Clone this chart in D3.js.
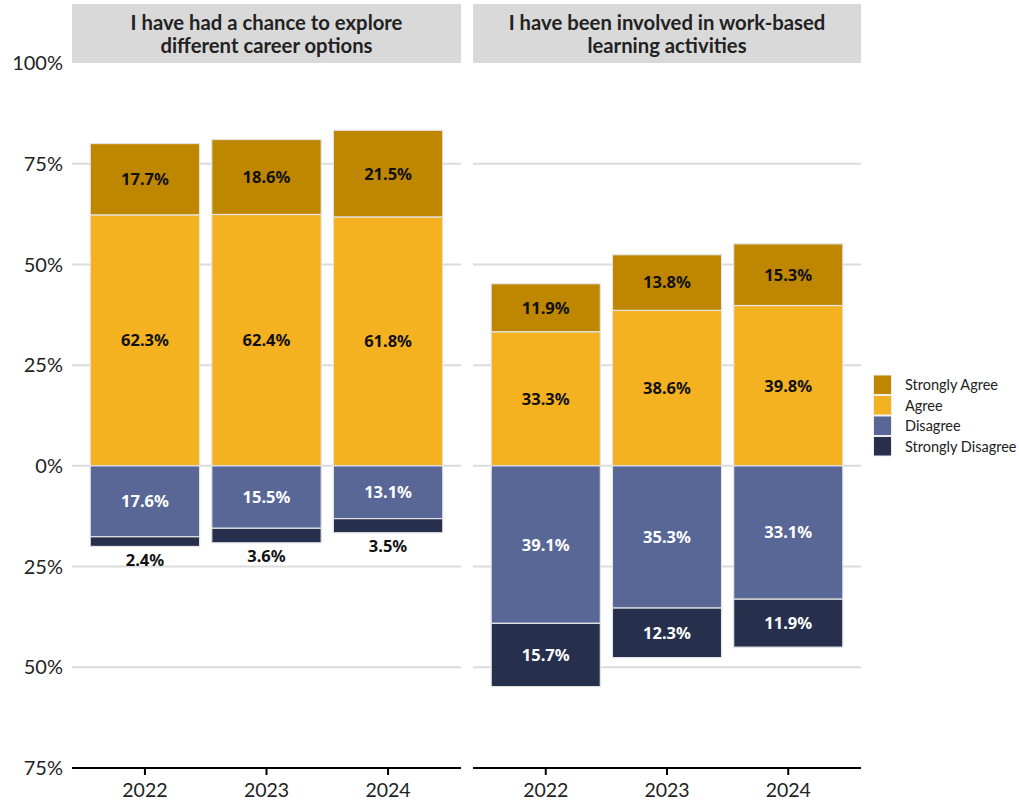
<!DOCTYPE html>
<html><head><meta charset="utf-8">
<script src="https://cdn.jsdelivr.net/npm/d3@7"></script>
<style>body{margin:0;background:#fff}</style>
</head><body>
<svg id="chart" width="1019" height="803"></svg>
<script>
const panelTitles = [
  ["I have had a chance to explore", "different career options"],
  ["I have been involved in work-based", "learning activities"]
];
const years = ["2022", "2023", "2024"];
const levels = ["Strongly Agree", "Agree", "Disagree", "Strongly Disagree"];
const levelColors = ["#BF8600", "#F4B120", "#586796", "#26304D"];
const stronglyAgree = [[17.7, 18.6, 21.5], [11.9, 13.8, 15.3]];
const agree = [[62.3, 62.4, 61.8], [33.3, 38.6, 39.8]];
const disagree = [[17.6, 15.5, 13.1], [39.1, 35.3, 33.1]];
const stronglyDisagree = [[2.4, 3.6, 3.5], [15.7, 12.3, 11.9]];
const yTicks = [100, 75, 50, 25, 0, -25, -50, -75];

const svg = d3.select("#chart");
const y = d3.scaleLinear().domain([-75, 100]).range([768, 63]);
const panelX = [[72, 461], [473, 861]];
const fmt = v => v.toFixed(1) + "%";
const labelFont = "'Noto Sans', 'Open Sans', sans-serif";
const axisFont = "Lato, 'Noto Sans', sans-serif";

// y axis labels
svg.append("g").selectAll("text").data(yTicks).join("text")
  .attr("x", 63).attr("y", d => y(d)).attr("dy", "0.36em")
  .attr("text-anchor", "end")
  .style("font-family", axisFont).style("font-size", "20px").style("fill", "#222")
  .text(d => Math.abs(d) + "%");

panelTitles.forEach((title, p) => {
  const [x0, x1] = panelX[p];
  const x = d3.scaleBand().domain(years).range([x0, x1]).paddingInner(0.1).paddingOuter(0.15);
  const g = svg.append("g");

  // gridlines
  g.selectAll("line.grid").data(yTicks.filter(t => t > -75 && t < 100)).join("line")
    .attr("x1", x0).attr("x2", x1).attr("y1", d => y(d)).attr("y2", d => y(d))
    .attr("stroke", "#dcdcdc").attr("stroke-width", 2);

  // strip
  g.append("rect").attr("x", x0).attr("y", 4).attr("width", x1 - x0).attr("height", 59)
    .attr("fill", "#d9d9d9");
  g.selectAll("text.strip").data(title).join("text")
    .attr("x", (x0 + x1) / 2).attr("y", (d, i) => 29.5 + i * 23)
    .attr("text-anchor", "middle")
    .style("font-family", axisFont).style("font-weight", "700").style("font-size", "20.3px").style("fill", "#222")
    .text(d => d);

  // segments
  const segs = [];
  years.forEach((yr, i) => {
    const a = agree[p][i], sa = stronglyAgree[p][i], dd = disagree[p][i], sd = stronglyDisagree[p][i];
    segs.push({yr, lvl: 1, lo: 0, hi: a, v: a});
    segs.push({yr, lvl: 0, lo: a, hi: a + sa, v: sa});
    segs.push({yr, lvl: 2, lo: -dd, hi: 0, v: dd});
    segs.push({yr, lvl: 3, lo: -(dd + sd), hi: -dd, v: sd});
  });
  g.selectAll("rect.bar").data(segs).join("rect")
    .attr("x", d => x(d.yr)).attr("width", x.bandwidth())
    .attr("y", d => y(d.hi)).attr("height", d => y(d.lo) - y(d.hi))
    .attr("fill", d => levelColors[d.lvl])
    .attr("stroke", "#e4e4e4").attr("stroke-width", 1.2);

  g.selectAll("text.lbl").data(segs).join("text")
    .attr("x", d => x(d.yr) + x.bandwidth() / 2)
    .attr("y", d => (d.lvl === 3 && d.v < 5) ? y(d.lo - 3.4) : y((d.lo + d.hi) / 2))
    .attr("dy", "0.36em").attr("text-anchor", "middle")
    .style("font-family", labelFont).style("font-weight", "700").style("font-size", "16.5px")
    .style("fill", d => (d.lvl <= 1 || (d.lvl === 3 && d.v < 5)) ? "#111" : "#fff")
    .text(d => fmt(d.v));

  // bottom axis
  g.append("line").attr("x1", x0).attr("x2", x1).attr("y1", 768).attr("y2", 768)
    .attr("stroke", "#000").attr("stroke-width", 2);
  g.selectAll("line.tick").data(years).join("line")
    .attr("x1", d => x(d) + x.bandwidth() / 2).attr("x2", d => x(d) + x.bandwidth() / 2)
    .attr("y1", 768).attr("y2", 775).attr("stroke", "#000").attr("stroke-width", 2);
  g.selectAll("text.tick").data(years).join("text")
    .attr("x", d => x(d) + x.bandwidth() / 2).attr("y", 797)
    .attr("text-anchor", "middle")
    .style("font-family", axisFont).style("font-size", "19.5px").style("fill", "#222")
    .text(d => d);
});

// legend
const lg = svg.append("g");
levels.forEach((lvl, i) => {
  const yy = 375 + i * 20.5;
  lg.append("rect").attr("x", 873.5).attr("y", yy).attr("width", 18).attr("height", 19.5)
    .attr("fill", levelColors[i]).attr("stroke", "#eee").attr("stroke-width", 1);
  lg.append("text").attr("x", 905).attr("y", yy + 10).attr("dy", "0.36em")
    .style("font-family", axisFont).style("font-size", "14.5px").style("fill", "#222")
    .text(lvl);
});
</script>
</body></html>
